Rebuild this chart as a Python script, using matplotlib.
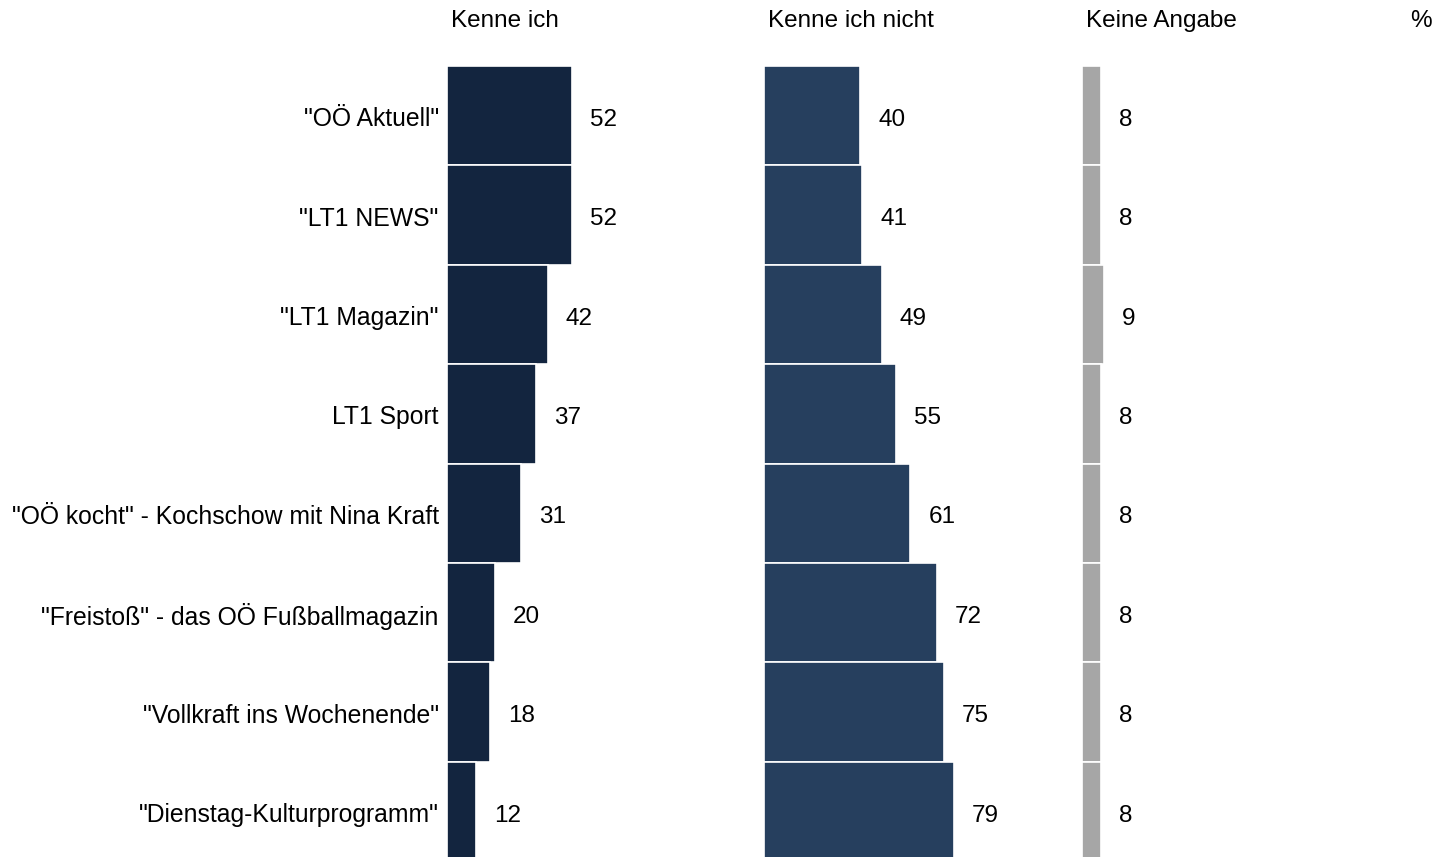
import matplotlib
matplotlib.use("Agg")
import matplotlib.pyplot as plt

plt.rcParams['font.family'] = ['Liberation Sans', 'DejaVu Sans']

categories = ['"OÖ Aktuell"', '"LT1 NEWS"', '"LT1 Magazin"', 'LT1 Sport',
              '"OÖ kocht" - Kochschow mit Nina Kraft',
              '"Freistoß" - das OÖ Fußballmagazin',
              '"Vollkraft ins Wochenende"', '"Dienstag-Kulturprogramm"']
kenne = [52, 52, 42, 37, 31, 20, 18, 12]
kenne_nicht = [40, 41, 49, 55, 61, 72, 75, 79]
keine_angabe = [8, 8, 9, 8, 8, 8, 8, 8]
headers = ['Kenne ich', 'Kenne ich nicht', 'Keine Angabe']
colors = ['#13253F', '#263F5E', '#A6A6A6']

W, H = 1441, 857
fig = plt.figure(figsize=(W / 100, H / 100), dpi=100)

px_per_unit = 2.4
lefts = [447, 764, 1082]
top = 66
row_px = 99.4
fs = 17.5

series = [kenne, kenne_nicht, keine_angabe]
n = len(categories)
ax_h = n * row_px
for i, (vals, left, col, head) in enumerate(zip(series, lefts, colors, headers)):
    width_units = 100
    ax = fig.add_axes([left / W, (H - top - ax_h) / H,
                       width_units * px_per_unit / W, ax_h / H])
    ypos = list(range(n))
    ax.barh(ypos, vals, height=1.0, color=col, edgecolor='white', linewidth=1.2)
    ax.set_xlim(0, width_units)
    ax.set_ylim(n - 0.5, -0.5)
    ax.axis('off')
    for y, v in zip(ypos, vals):
        ax.annotate(str(v), (v, y), xytext=(13, -3), textcoords='offset points',
                    ha='left', va='center', fontsize=fs, color='black')
    if i == 0:
        for y, c in zip(ypos, categories):
            ax.annotate(c, (0, y), xytext=(-6, -2.5), textcoords='offset points',
                        ha='right', va='center', fontsize=17.8, color='black')
    fig.text((left + 4) / W, 1 - 27 / H, head, ha='left', va='baseline',
             fontsize=fs, color='black')

fig.text(1421 / W, 1 - 27 / H, '%', ha='center', va='baseline', fontsize=fs, color='black')

fig.savefig('out.png', dpi=100)
